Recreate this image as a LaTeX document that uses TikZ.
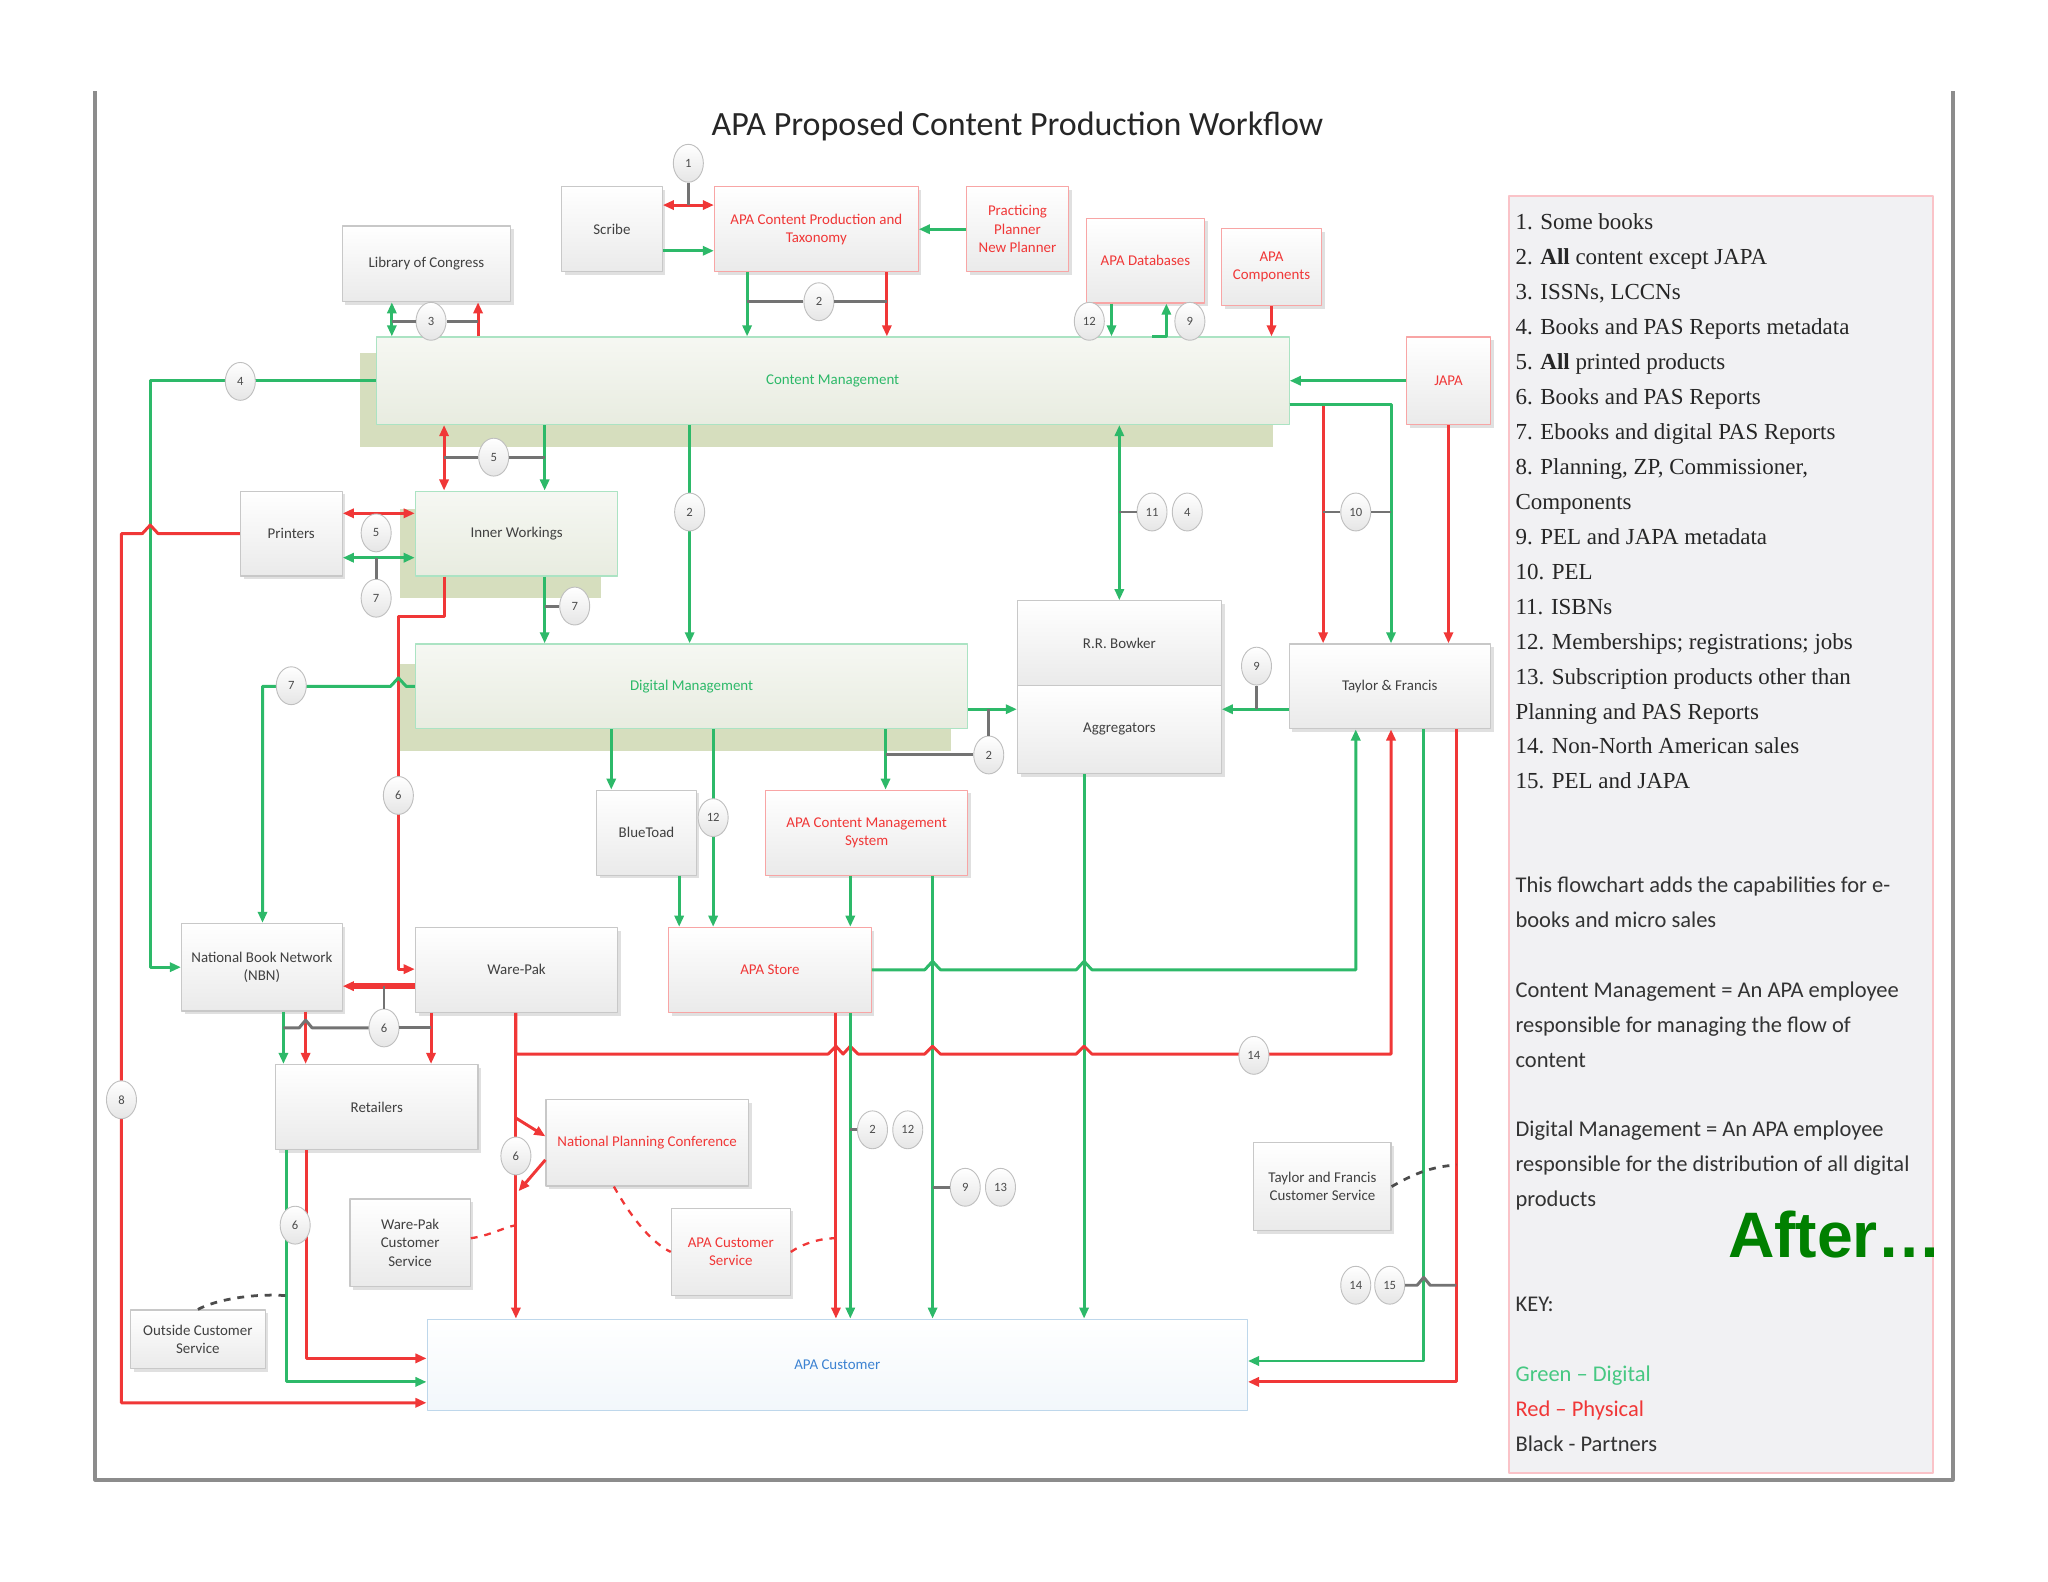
\documentclass[tikz,border=0pt]{standalone}
\usepackage{fontspec}
\setmainfont{Carlito}
\newfontfamily\legserif{Liberation Serif}
\newfontfamily\afterfont{Liberation Sans}
\usetikzlibrary{arrows.meta,shapes.geometric,shadows}
\definecolor{apagreen}{RGB}{45,185,105}
\definecolor{apared}{RGB}{240,55,55}
\definecolor{apagrey}{RGB}{115,115,115}
\definecolor{boxedge}{RGB}{200,200,200}
\definecolor{boxfill}{RGB}{234,234,234}
\definecolor{mgmtfill}{RGB}{232,236,224}
\definecolor{mgmtshade}{RGB}{214,222,190}
\definecolor{legfill}{RGB}{241,241,243}
\definecolor{legedge}{RGB}{250,195,200}
\definecolor{custedge}{RGB}{190,215,235}
\definecolor{custtext}{RGB}{60,130,210}
\definecolor{keygreen}{RGB}{70,200,130}
\definecolor{afterg}{RGB}{0,128,0}
\tikzset{
  pbox/.style={
    draw=boxedge, line width=0.5pt, top color=white, bottom color=boxfill,
    align=center, inner sep=1pt, font=\fontsize{6.5}{8}\selectfont, text=black!75
  },
  shd/.style={drop shadow={shadow xshift=0.5mm, shadow yshift=-0.5mm, fill=black!30, opacity=0.4}},
  gbox/.style={pbox, shd},
  rbox/.style={pbox, shd, draw=apared!45, text=apared},
  mgmt/.style={pbox, draw=apagreen!40, top color=mgmtfill!40, bottom color=mgmtfill, text=apagreen},
  custbox/.style={pbox, draw=custedge, top color=white, bottom color=custedge!20, text=custtext},
  num/.style={
    ellipse, draw=black!25, top color=white, bottom color=black!10,
    minimum width=4.6mm, minimum height=5.8mm, inner sep=0pt,
    font=\fontsize{5.5}{6}\selectfont, text=black!70
  },
  garr/.style={->, draw=apagreen, line width=1.3pt},
  gdarr/.style={<->, draw=apagreen, line width=1.3pt},
  rarr/.style={->, draw=apared, line width=1.3pt},
  rdarr/.style={<->, draw=apared, line width=1.3pt},
  tick/.style={draw=apagrey, line width=1.3pt},
  rdash/.style={draw=apared, dashed, line width=1pt},
  kdash/.style={draw=black!70, dashed, line width=1.2pt},
  legser/.style={anchor=base west, inner sep=0pt, font=\legserif\fontsize{10}{12}\selectfont, text=black!85},
  legsans/.style={anchor=base west, inner sep=0pt, font=\fontsize{9.8}{12}\selectfont, text=black!80}
}
\begin{document}
\begin{tikzpicture}[x=0.2mm, y=-0.2mm, >={Triangle[length=1.7mm,width=1.4mm]}, line join=round]
  \useasboundingbox (0,0) rectangle (1568,1211);
  % frame and key panel
  \draw[black!45, line width=0.6mm] (73,70) -- (73,1133) -- (1495,1133) -- (1495,70);
  \node[draw=legedge, fill=legfill, line width=0.8pt, minimum width=65mm, minimum height=195.6mm, inner sep=0pt] (legend) at (1317.5,639) {};
  \node[font=\fontsize{14.8}{17}\selectfont, text=black!85] (title) at (779,97) {APA Proposed Content Production Workflow};

  % olive backing of the management boxes
  \fill[mgmtshade] (276,270) rectangle (975,342);
  \fill[mgmtshade] (306,390) rectangle (460,458);
  \fill[mgmtshade] (306,508) rectangle (728,575);

  % boxes
  \node[gbox, minimum width=15.4mm, minimum height=13mm] (scribe) at (468.5,175.5) {Scribe};
  \node[rbox, minimum width=31.2mm, minimum height=13mm] (cpt) at (625,175.5) {APA Content Production and\\Taxonomy};
  \node[rbox, minimum width=15.6mm, minimum height=13mm] (ppl) at (779,175.5) {Practicing\\Planner\\New Planner};
  \node[rbox, minimum width=18mm, minimum height=13mm] (apadb) at (877,199.5) {APA Databases};
  \node[rbox, minimum width=15.4mm, minimum height=11.8mm] (apacomp) at (973.5,204.5) {APA\\Components};
  \node[gbox, minimum width=25.8mm, minimum height=11.6mm] (loc) at (326.5,202) {Library of Congress};
  \node[mgmt, minimum width=139.8mm, minimum height=13.4mm] (cm) at (637.5,291.5) {Content Management};
  \node[rbox, minimum width=12.8mm, minimum height=13.4mm] (japa) at (1109,291.5) {JAPA};
  \node[gbox, minimum width=15.6mm, minimum height=13mm] (printers) at (223,408.5) {Printers};
  \node[mgmt, minimum width=31mm, minimum height=13mm, text=black!75] (iw) at (395.5,408.5) {Inner Workings};
  \node[mgmt, minimum width=84.6mm, minimum height=13mm] (dm) at (529.5,525.5) {Digital Management};
  \node[gbox, minimum width=31.2mm, minimum height=13mm] (bowker) at (857,492.5) {R.R. Bowker};
  \node[gbox, minimum width=31.2mm, minimum height=13.4mm] (aggr) at (857,558.5) {Aggregators};
  \node[gbox, minimum width=30.8mm, minimum height=13mm] (tf) at (1064,525.5) {Taylor \& Francis};
  \node[gbox, minimum width=15.2mm, minimum height=13mm] (bluetoad) at (495,637.5) {BlueToad};
  \node[rbox, minimum width=31mm, minimum height=13mm] (cms) at (663.5,637.5) {APA Content Management\\System};
  \node[gbox, minimum width=24.6mm, minimum height=13.4mm] (nbn) at (200.5,740.5) {National Book Network\\(NBN)};
  \node[gbox, minimum width=31mm, minimum height=13mm] (warepak) at (395.5,742.5) {Ware-Pak};
  \node[rbox, minimum width=31mm, minimum height=13mm] (store) at (589.5,742.5) {APA Store};
  \node[gbox, minimum width=31mm, minimum height=13mm] (retail) at (288.5,847.5) {Retailers};
  \node[gbox, minimum width=31mm, minimum height=13.2mm, text=apared] (npc) at (495.5,875) {National Planning Conference};
  \node[gbox, minimum width=18.4mm, minimum height=13.4mm] (wpcs) at (314,951.5) {Ware-Pak\\Customer\\Service};
  \node[gbox, minimum width=18.2mm, minimum height=13.4mm, text=apared] (apacs) at (559.5,958.5) {APA Customer\\Service};
  \node[gbox, minimum width=20.6mm, minimum height=9mm] (ocs) at (151.5,1025.5) {Outside Customer\\Service};
  \node[gbox, minimum width=21mm, minimum height=13.4mm] (tfcs) at (1012.5,908.5) {Taylor and Francis\\Customer Service};
  \node[custbox, minimum width=125.6mm, minimum height=14mm] (cust) at (641,1045) {APA Customer};

  % top row
  \draw[rdarr] (scribe.east |- 0,157) -- (cpt.west |- 0,157);
  \draw[garr] (scribe.east |- 0,192) -- (cpt.west |- 0,192);
  \draw[garr] (ppl.west) -- (cpt.east);
  \draw[garr] (cpt.south -| 572,0) -- (cm.north -| 572,0);
  \draw[rarr] (cpt.south -| 679,0) -- (cm.north -| 679,0);
  \draw[gdarr] (loc.south -| 300,0) -- (cm.north -| 300,0);
  \draw[rarr] (cm.north -| 366,0) -- (loc.south -| 366,0);
  \draw[garr] (apadb.south -| 851,0) -- (cm.north -| 851,0);
  \draw[garr] (cm.north -| 882,0) -| (apadb.south -| 893,0);
  \draw[rarr] (apacomp.south) -- (cm.north -| apacomp.south);
  \draw[garr] (japa.west) -- (cm.east);
  \draw[rarr] (cm.east |- 0,310) -| (tf.north -| 1013,0);
  \draw[garr] (cm.east |- 0,310) -| (tf.north -| 1065,0);
  \draw[rarr] (japa.south) -- (tf.north -| japa.south);

  % left side
  \draw[garr] (cm.west) -- (115,291.5) |- (nbn.west);
  \draw[rarr] (printers.west) -- (121,408.5) -- (115,402) -- (109,408.5) -- (93,408.5) |- (cust.west |- 0,1074);
  \draw[rdarr] (cm.south -| 340,0) -- (iw.north -| 340,0);
  \draw[garr] (cm.south -| 417,0) -- (iw.north -| 417,0);
  \draw[garr] (cm.south -| 528,0) -- (dm.north -| 528,0);
  \draw[gdarr] (cm.south -| 857,0) -- (bowker.north);
  \draw[rdarr] (printers.east |- 0,393) -- (iw.west |- 0,393);
  \draw[gdarr] (printers.east |- 0,427) -- (iw.west |- 0,427);
  \draw[garr] (iw.south -| 417,0) -- (dm.north -| 417,0);
  \draw[rarr] (iw.south -| 340,0) -- (340,472) -| (305,742) -- (warepak.west |- 0,742);
  \draw[garr] (dm.west) -- (311,525.5) -- (305,519) -- (299,525.5) -| (nbn.north -| 201,0);

  % digital management outputs
  \draw[garr] (dm.east |- 0,543) -- (aggr.west |- 0,543);
  \draw[garr] (dm.south -| 468,0) -- (bluetoad.north -| 468,0);
  \draw[garr] (dm.south -| 546,0) -- (store.north -| 546,0);
  \draw[garr] (dm.south -| 678,0) -- (cms.north -| 678,0);
  \draw[garr] (bluetoad.south -| 520,0) -- (store.north -| 520,0);
  \draw[garr] (cms.south -| 651,0) -- (store.north -| 651,0);
  \draw[garr] (cms.south -| 714,0) -- (cust.north -| 714,0);
  \draw[garr] (aggr.south -| 830,0) -- (cust.north -| 830,0);
  \draw[garr] (tf.west |- 0,543) -- (aggr.east |- 0,543);
  \draw[garr] (store.east) -- (708,742.5) -- (714,736) -- (720,742.5) -- (824,742.5) -- (830,736) -- (836,742.5) -| (tf.south -| 1038,0);

  % physical flow
  \draw[rarr] (warepak.south -| 395,0) -- (cust.north -| 395,0);
  \draw[rarr] (warepak.south -| 395,0) -- (395,807) -- (634,807) -- (640,801) -- (645.5,807) -- (651,801) -- (657,807)
    -- (708,807) -- (714,801) -- (720,807) -- (824,807) -- (830,801) -- (836,807) -| (tf.south -| 1065,0);
  \coordinate (npcin) at (395,856);
  \coordinate (npcout) at (397,912);
  \draw[rarr] (npcin) -- (npc.west |- 0,870);
  \draw[rarr] (npc.west |- 0,888) -- (npcout);
  \draw[rarr] (store.south -| 640,0) -- (cust.north -| 640,0);
  \draw[garr] (store.south -| 651,0) -- (cust.north -| 651,0);
  \draw[rarr, line width=2.4pt] (warepak.west |- 0,755) -- (nbn.east |- 0,755);
  \draw[garr] (nbn.south -| 217,0) -- (retail.north -| 217,0);
  \draw[rarr] (nbn.south -| 234,0) -- (retail.north -| 234,0);
  \draw[rarr] (warepak.south -| 330,0) -- (retail.north -| 330,0);
  \draw[garr] (retail.south -| 219,0) |- (cust.west |- 0,1058);
  \draw[rarr] (retail.south -| 235,0) |- (cust.west |- 0,1040);
  \draw[garr] (tf.south -| 1090,0) |- (cust.east |- 0,1042);
  \draw[rarr] (tf.south -| 1115,0) |- (cust.east |- 0,1058);

  % customer service links
  \coordinate (wpcsj) at (395,938);
  \coordinate (apacsj) at (640,948);
  \coordinate (ocsj) at (219,992);
  \coordinate (tfcsj) at (1115,892);
  \draw[rdash] (wpcs.east |- 0,948) .. controls (375,946) and (385,940) .. (wpcsj);
  \draw[rdash] (npc.south -| 470,0) .. controls (485,935) and (500,952) .. (apacs.west);
  \draw[rdash] (apacs.east) .. controls (615,952) and (628,948) .. (apacsj);
  \draw[kdash] (ocs.north) .. controls (165,995) and (195,990) .. (ocsj);
  \draw[kdash] (tfcs.east) .. controls (1080,900) and (1095,893) .. (tfcsj);

  % numbered flags
  \foreach \n/\x/\y/\t in {n1/527/125/1, n3/330/246/3, n2a/627/231/2, n12a/834/246/12, n9a/911/246/9,
      n4a/184/292/4, n5a/378/350/5, n2b/528/392/2, n11/882/392/11, n4b/909/392/4, n10/1038/392/10,
      n5b/288/408/5, n7a/288/458/7, n7b/440/464/7, n9b/962/510/9, n7c/223/525/7, n2c/757/578/2,
      n6a/305/609/6, n12b/546/626/12, n6b/294/787/6, n14a/960/808/14, n8/93/842/8, n2d/668/865/2,
      n12c/695/865/12, n6c/395/885/6, n9c/739/909/9, n13/766/909/13, n6d/226/938/6,
      n14b/1038/984/14, n15/1064/984/15}
    \node[num] (\n) at (\x,\y) {\t};
  \draw[tick] (n1) -- (n1 |- 0,157);
  \draw[tick] (n3) -- (n3 -| 300,0);
  \draw[tick] (n3) -- (n3 -| 366,0);
  \draw[tick] (n2a) -- (n2a -| 572,0);
  \draw[tick] (n2a) -- (n2a -| 679,0);
  \draw[tick] (n5a) -- (n5a -| 340,0);
  \draw[tick] (n5a) -- (n5a -| 417,0);
  \draw[tick] (n11) -- (n11 -| 857,0);
  \draw[tick] (n10) -- (n10 -| 1013,0);
  \draw[tick] (n10) -- (n10 -| 1065,0);
  \draw[tick] (n7a) -- (n7a |- 0,427);
  \draw[tick] (n7b) -- (n7b -| 417,0);
  \draw[tick] (n9b) -- (n9b |- 0,543);
  \draw[tick] (n2c) -- (n2c |- 0,543);
  \draw[tick] (n2c) -- (n2c -| 678,0);
  \draw[tick] (n6b) -- (n6b |- 0,755);
  \draw[tick] (n6b) -- (n6b -| 330,0);
  \draw[tick] (n6b) -- (239,787) -- (234,781) -- (229,787) -- (217,787);
  \draw[tick] (n2d) -- (n2d -| 651,0);
  \draw[tick] (n9c) -- (n9c -| 714,0);
  \draw[tick] (n15) -- (1085,984) -- (1090,978) -- (1095,984) -- (1115,984);

  % key panel text
  \foreach \i/\t in {0/{1. Some books}, 1/{2. \textbf{All} content except JAPA}, 2/{3. ISSNs, LCCNs},
      3/{4. Books and PAS Reports metadata}, 4/{5. \textbf{All} printed products}, 5/{6. Books and PAS Reports},
      6/{7. Ebooks and digital PAS Reports}, 7/{8. Planning, ZP, Commissioner,}, 8/{Components},
      9/{9. PEL and JAPA metadata}, 10/{10. PEL}, 11/{11. ISBNs}, 12/{12. Memberships; registrations; jobs},
      13/{13. Subscription products other than}, 14/{Planning and PAS Reports},
      15/{14. Non-North American sales}, 16/{15. PEL and JAPA}}
    \node[legser] (key\i) at (1160,{176+26.75*\i}) {\t};
  \foreach \i/\t in {19/{This flowchart adds the capabilities for e-}, 20/{books and micro sales},
      22/{Content Management = An APA employee}, 23/{responsible for managing the flow of}, 24/{content},
      26/{Digital Management = An APA employee}, 27/{responsible for the distribution of all digital},
      28/{products}, 31/{KEY:}, 33/{\textcolor{keygreen}{Green – Digital}},
      34/{\textcolor{apared}{Red – Physical}}, 35/{Black - Partners}}
    \node[legsans] (key\i) at (1160,{175+26.75*\i}) {\t};
  \node[font=\afterfont\bfseries\fontsize{28}{30}\selectfont, text=afterg] (after) at (1405,945) {After\ldots};
\end{tikzpicture}
\end{document}
